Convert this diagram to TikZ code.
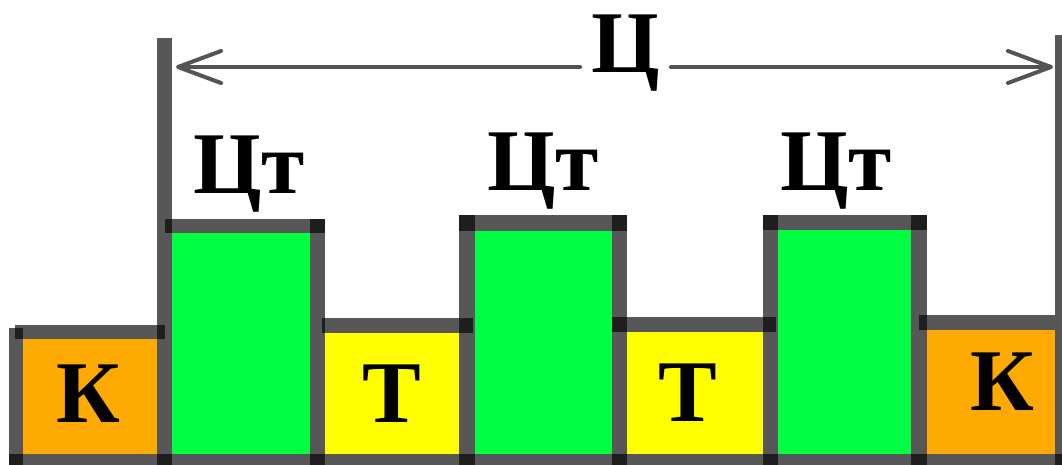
\documentclass[tikz,border=0pt]{standalone}
\usepackage{fontspec}
\setmainfont{Liberation Serif}
\usetikzlibrary{arrows.meta}
\definecolor{kgreen}{HTML}{00FF42}
\definecolor{kyellow}{HTML}{FFFF00}
\definecolor{korange}{HTML}{FFAA00}
\tikzset{
  bar/.style={fill=black,fill opacity=0.66},
  lbl/.style={font=\fontsize{88}{90}\selectfont\bfseries,anchor=base,inner sep=0pt},
  dim/.style={line width=4pt,draw=black!67,line cap=round,{Straight Barb[length=43pt,width=32pt,line width=4pt,round]}-},
}
\begin{document}
\begin{tikzpicture}[x=1pt,y=-1pt]
\useasboundingbox (0,0) rectangle (1062,464);
% fills
\fill[korange] (23,339) rectangle (157,454);
\fill[kgreen] (172,233) rectangle (310,454);
\fill[kyellow] (325,333) rectangle (459,454);
\fill[kgreen] (475,231) rectangle (612,454);
\fill[kyellow] (627,332) rectangle (763,454);
\fill[kgreen] (778,230) rectangle (911,454);
\fill[korange] (927,330) rectangle (1055,454);
% bottom bar
\fill[bar] (9,454) rectangle (1070,470);
% verticals
\fill[bar] (9,328) rectangle (23,470);
\fill[bar] (157,38) rectangle (172,470);
\fill[bar] (310,219) rectangle (325,470);
\fill[bar] (459,215) rectangle (475,470);
\fill[bar] (612,215) rectangle (627,470);
\fill[bar] (763,215) rectangle (778,470);
\fill[bar] (911,215) rectangle (927,470);
\fill[bar] (1055,35) rectangle (1070,470);
% tops
\fill[bar] (15,325) rectangle (165,339);
\fill[bar] (165,219) rectangle (325,233);
\fill[bar] (322,318) rectangle (473,333);
\fill[bar] (459,215) rectangle (627,231);
\fill[bar] (612,317) rectangle (776,332);
\fill[bar] (763,215) rectangle (927,230);
\fill[bar] (919,315) rectangle (1055,330);
% labels
\node[lbl] (K1) at (88,422) {К};
\node[lbl] (T1) at (392,422) {Т};
\node[lbl] (T2) at (688,421) {Т};
\node[lbl] (K2) at (1002,410) {К};
\node[lbl] (CT1) at (249,193) {Цт};
\node[lbl] (CT2) at (543,190) {Цт};
\node[lbl] (CT3) at (836,190) {Цт};
\node[lbl,inner xsep=11pt] (C) at (625.5,72) {Ц};
% dimension arrow
\coordinate (aL) at (176,67);
\coordinate (aR) at (1053,67);
\coordinate (cL) at (C.base west |- aL);
\coordinate (cR) at (C.base east |- aR);
\draw[dim] (aL) -- (cL);
\draw[dim] (aR) -- (cR);
\end{tikzpicture}
\end{document}
